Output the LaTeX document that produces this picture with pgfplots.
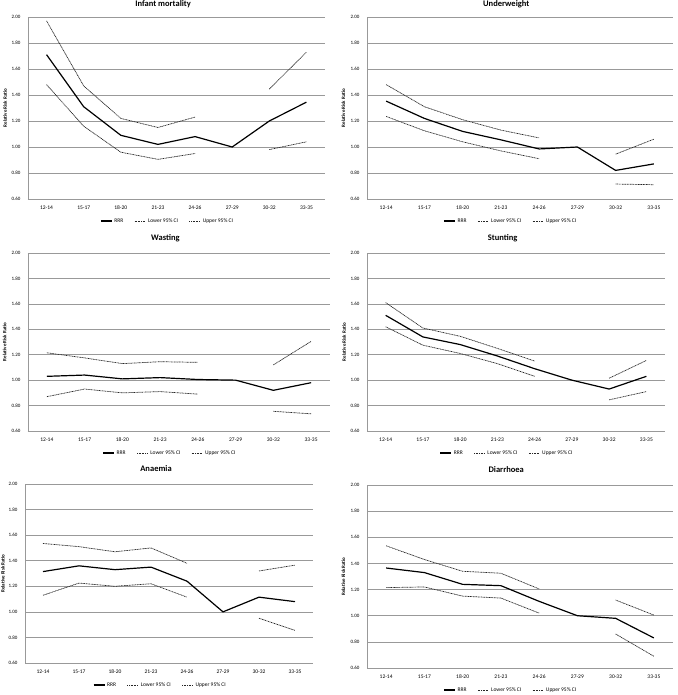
\documentclass[border=0pt]{standalone}
\usepackage{fontspec}
\setmainfont{Carlito}
\usepackage{pgfplots}
\usepackage{pgfplotstable}
\pgfplotsset{compat=1.18}

\pgfplotstableread{
x rrr lo hi
0 1.71 1.48 1.97
1 1.31 1.16 1.47
2 1.09 0.96 1.22
3 1.02 0.905 1.15
4 1.08 0.95 1.23
5 1.00 nan nan
6 1.20 0.98 1.445
7 1.345 1.04 1.73
}\tabIM
\pgfplotstableread{
x rrr lo hi
0 1.353 1.235 1.48
1 1.22 1.125 1.31
2 1.12 1.04 1.21
3 1.055 0.97 1.13
4 0.985 0.91 1.07
5 1.00 nan nan
6 0.82 0.715 0.945
7 0.87 0.71 1.06
}\tabUW
\pgfplotstableread{
x rrr lo hi
0 1.03 0.87 1.215
1 1.04 0.93 1.175
2 1.01 0.90 1.13
3 1.02 0.91 1.145
4 1.005 0.89 1.14
5 1.00 nan nan
6 0.92 0.755 1.12
7 0.98 0.735 1.305
}\tabWA
\pgfplotstableread{
x rrr lo hi
0 1.51 1.42 1.61
1 1.34 1.275 1.41
2 1.28 1.21 1.345
3 1.19 1.13 1.25
4 1.09 1.03 1.15
5 1.00 nan nan
6 0.93 0.845 1.015
7 1.03 0.91 1.155
}\tabST
\pgfplotstableread{
x rrr lo hi
0 1.315 1.13 1.535
1 1.36 1.225 1.51
2 1.33 1.20 1.47
3 1.35 1.22 1.50
4 1.24 1.115 1.38
5 1.00 nan nan
6 1.115 0.95 1.32
7 1.08 0.855 1.365
}\tabAN
\pgfplotstableread{
x rrr lo hi
0 1.365 1.215 1.535
1 1.33 1.22 1.43
2 1.24 1.15 1.34
3 1.23 1.135 1.325
4 1.11 1.02 1.205
5 1.00 nan nan
6 0.98 0.86 1.12
7 0.83 0.69 1.005
}\tabDI

\pgfplotsset{
  myax/.style={
    scale only axis,
    anchor=north west,
    xmin=-0.5, xmax=7.5, ymin=0.6, ymax=2.0,
    xtick={0,...,7},
    xticklabels={12-14,15-17,18-20,21-23,24-26,27-29,30-32,33-35},
    ytick={0.6,0.8,1.0,1.2,1.4,1.6,1.8,2.0},
    /pgf/number format/assume math mode=true,
    /pgf/number format/fixed,
    /pgf/number format/fixed zerofill,
    /pgf/number format/precision=2,
    yticklabel style={font=\fontsize{5}{6}\selectfont, xshift=-4pt},
    xticklabel style={font=\fontsize{5.5}{6}\selectfont, yshift=-3pt},
    ymajorgrids,
    grid style={black!40, line width=0.6pt},
    axis x line*=bottom, axis y line*=left,
    axis line style={black!40, line width=0.6pt},
    major tick length=0pt,
    tick style={draw=none},
    unbounded coords=jump,
    title style={font=\fontsize{8.5}{10}\selectfont\bfseries, at={(axis description cs:0.455,1)}, anchor=base, inner sep=0pt, yshift=7pt},
    ylabel={Relative Risk Ratio},
    ylabel style={font=\fontsize{5}{6}\selectfont\bfseries, at={(axis description cs:-0.077,0.5)}, anchor=center},
    legend style={at={(axis description cs:0.47,0)}, anchor=center, yshift=-22pt, draw=none, fill=none,
      font=\fontsize{5.5}{6}\selectfont, legend columns=-1,
      /tikz/every even column/.append style={column sep=9pt}},
    legend image code/.code={\draw[#1] (0pt,0pt) -- (11pt,0pt);},
  },
  toprow/.style={title style={yshift=-2.5pt}},
  rrr/.style={black, line width=1.2pt},
  ci/.style={black!85, line width=0.7pt, dash pattern=on 1pt off 0.6pt},
}

\newcommand{\panel}[1]{%
  \addplot[rrr] table[x=x,y=rrr] {#1};
  \addplot[ci] table[x=x,y=lo] {#1};
  \addplot[ci] table[x=x,y=hi] {#1};
  \legend{RRR,Lower 95\% CI,Upper 95\% CI}
}

\begin{document}
\begin{tikzpicture}
\useasboundingbox (0,0) rectangle (677pt,-695pt);
\begin{axis}[myax, toprow, at={(28pt,-17pt)}, width=297pt, height=182pt, title={Infant mortality}]
\panel{\tabIM}
\end{axis}
\begin{axis}[myax, toprow, at={(367pt,-17pt)}, width=306pt, height=182pt, title={Underweight}]
\panel{\tabUW}
\end{axis}
\begin{axis}[myax, at={(28pt,-253pt)}, width=302pt, height=178pt, title={Wasting}]
\panel{\tabWA}
\end{axis}
\begin{axis}[myax, at={(367pt,-253pt)}, width=298pt, height=178pt, title={Stunting}]
\panel{\tabST}
\end{axis}
\begin{axis}[myax, at={(25pt,-484pt)}, width=288pt, height=179pt, title={Anaemia}]
\panel{\tabAN}
\end{axis}
\begin{axis}[myax, at={(367pt,-485pt)}, width=306pt, height=183pt, title={Diarrhoea}]
\panel{\tabDI}
\end{axis}
\end{tikzpicture}
\end{document}
